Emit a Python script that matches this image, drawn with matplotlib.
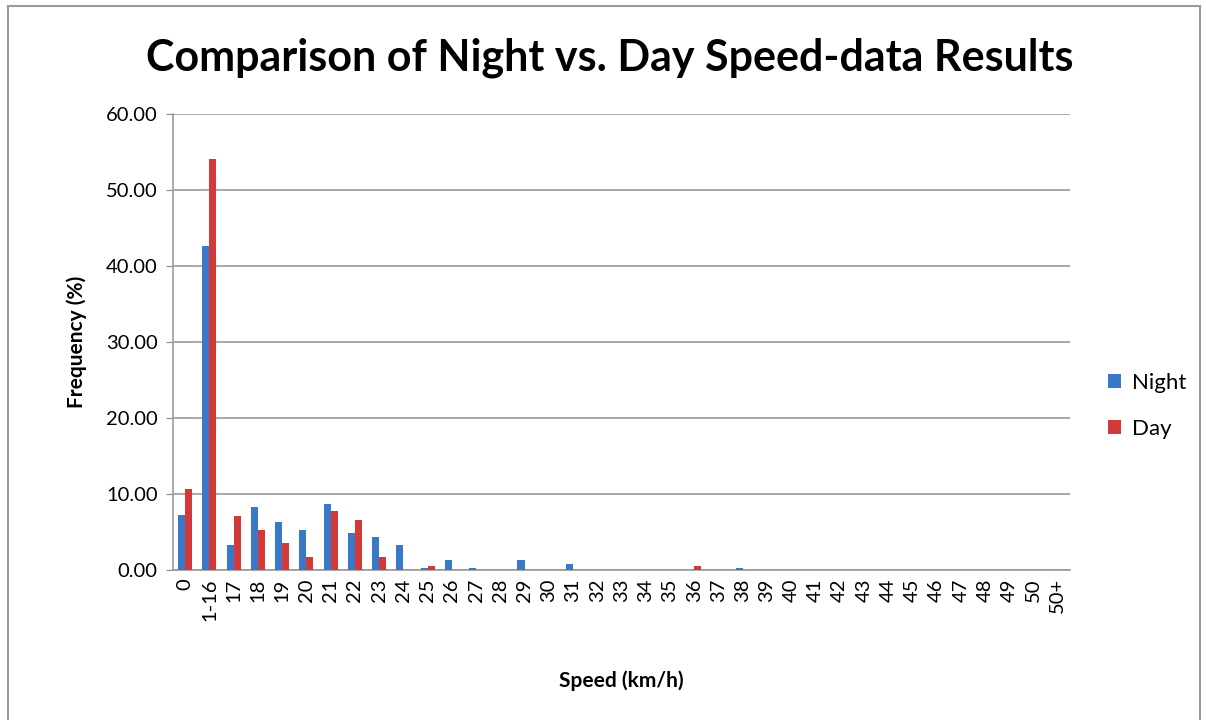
import matplotlib.pyplot as plt
import numpy as np
from matplotlib.patches import Rectangle

categories = ['0', '1-16'] + [str(v) for v in range(17, 51)] + ['50+']
night = [7.24, 42.68, 3.33, 8.25, 6.27, 5.26, 8.68, 4.82, 4.30, 3.33,
         0.31, 1.32, 0.31, 0.0, 1.32, 0.0, 0.83, 0.0, 0.0, 0.0,
         0.0, 0.0, 0.0, 0.31, 0.0, 0.0, 0.0, 0.0, 0.0, 0.0,
         0.0, 0.0, 0.0, 0.0, 0.0, 0.0, 0.0]
day = [10.66, 54.04, 7.06, 5.26, 3.51, 1.71, 7.72, 6.58, 1.71, 0.0,
       0.53, 0.0, 0.0, 0.0, 0.0, 0.0, 0.0, 0.0, 0.0, 0.0,
       0.0, 0.53, 0.0, 0.0, 0.0, 0.0, 0.0, 0.0, 0.0, 0.0,
       0.0, 0.0, 0.0, 0.0, 0.0, 0.0, 0.0]

plt.rcParams['font.family'] = ['Lato', 'DejaVu Sans']

fig = plt.figure(figsize=(12.06, 7.2), dpi=100)
ax = fig.add_axes([173 / 1206, 1 - 570 / 720, (1070 - 173) / 1206, (570 - 114) / 720])

x = np.arange(len(categories))
w = 0.29
ax.bar(x - w / 2, night, w, color='#3A78C8', label='Night', zorder=3)
ax.bar(x + w / 2, day, w, color='#D4393A', label='Day', zorder=3)

ax.set_xlim(-0.5, len(categories) - 0.5)
ax.set_ylim(0, 60)
ax.set_yticks(np.arange(0, 61, 10))
ax.set_yticklabels(['%.2f' % v for v in np.arange(0, 61, 10)], fontsize=14.5)
ax.set_xticks(x)
ax.set_xticklabels(categories, rotation=90, fontsize=14.5)
ax.tick_params(axis='x', length=0, pad=6)
ax.tick_params(axis='y', length=5, color='#888888', pad=6)
ax.yaxis.grid(True, color='#999999', linewidth=1.2, zorder=0)

for s in ['top', 'right']:
    ax.spines[s].set_visible(False)
for s in ['left', 'bottom']:
    ax.spines[s].set_color('#999999')
    ax.spines[s].set_linewidth(1.2)

ax.set_ylabel('Frequency (%)', fontsize=15, fontweight='bold', labelpad=14)
ax.set_xlabel('Speed (km/h)', fontsize=15, fontweight='bold', labelpad=36)

fig.suptitle('Comparison of Night vs. Day Speed-data Results', fontsize=31,
             fontweight='bold', x=610 / 1206, y=1 - 58 / 720, va='center')

ax.legend(loc='center left', bbox_to_anchor=(1.02, 0.36), frameon=False,
          fontsize=16, handlelength=0.6, handleheight=0.6, labelspacing=1.15,
          handletextpad=0.5)

fig.patches.append(Rectangle((8 / 1206, -0.01), 1192 / 1206, 1 - 6 / 720 + 0.01,
                             transform=fig.transFigure, fill=False,
                             edgecolor='#999999', linewidth=1.5))

fig.savefig('out.png', dpi=100)
